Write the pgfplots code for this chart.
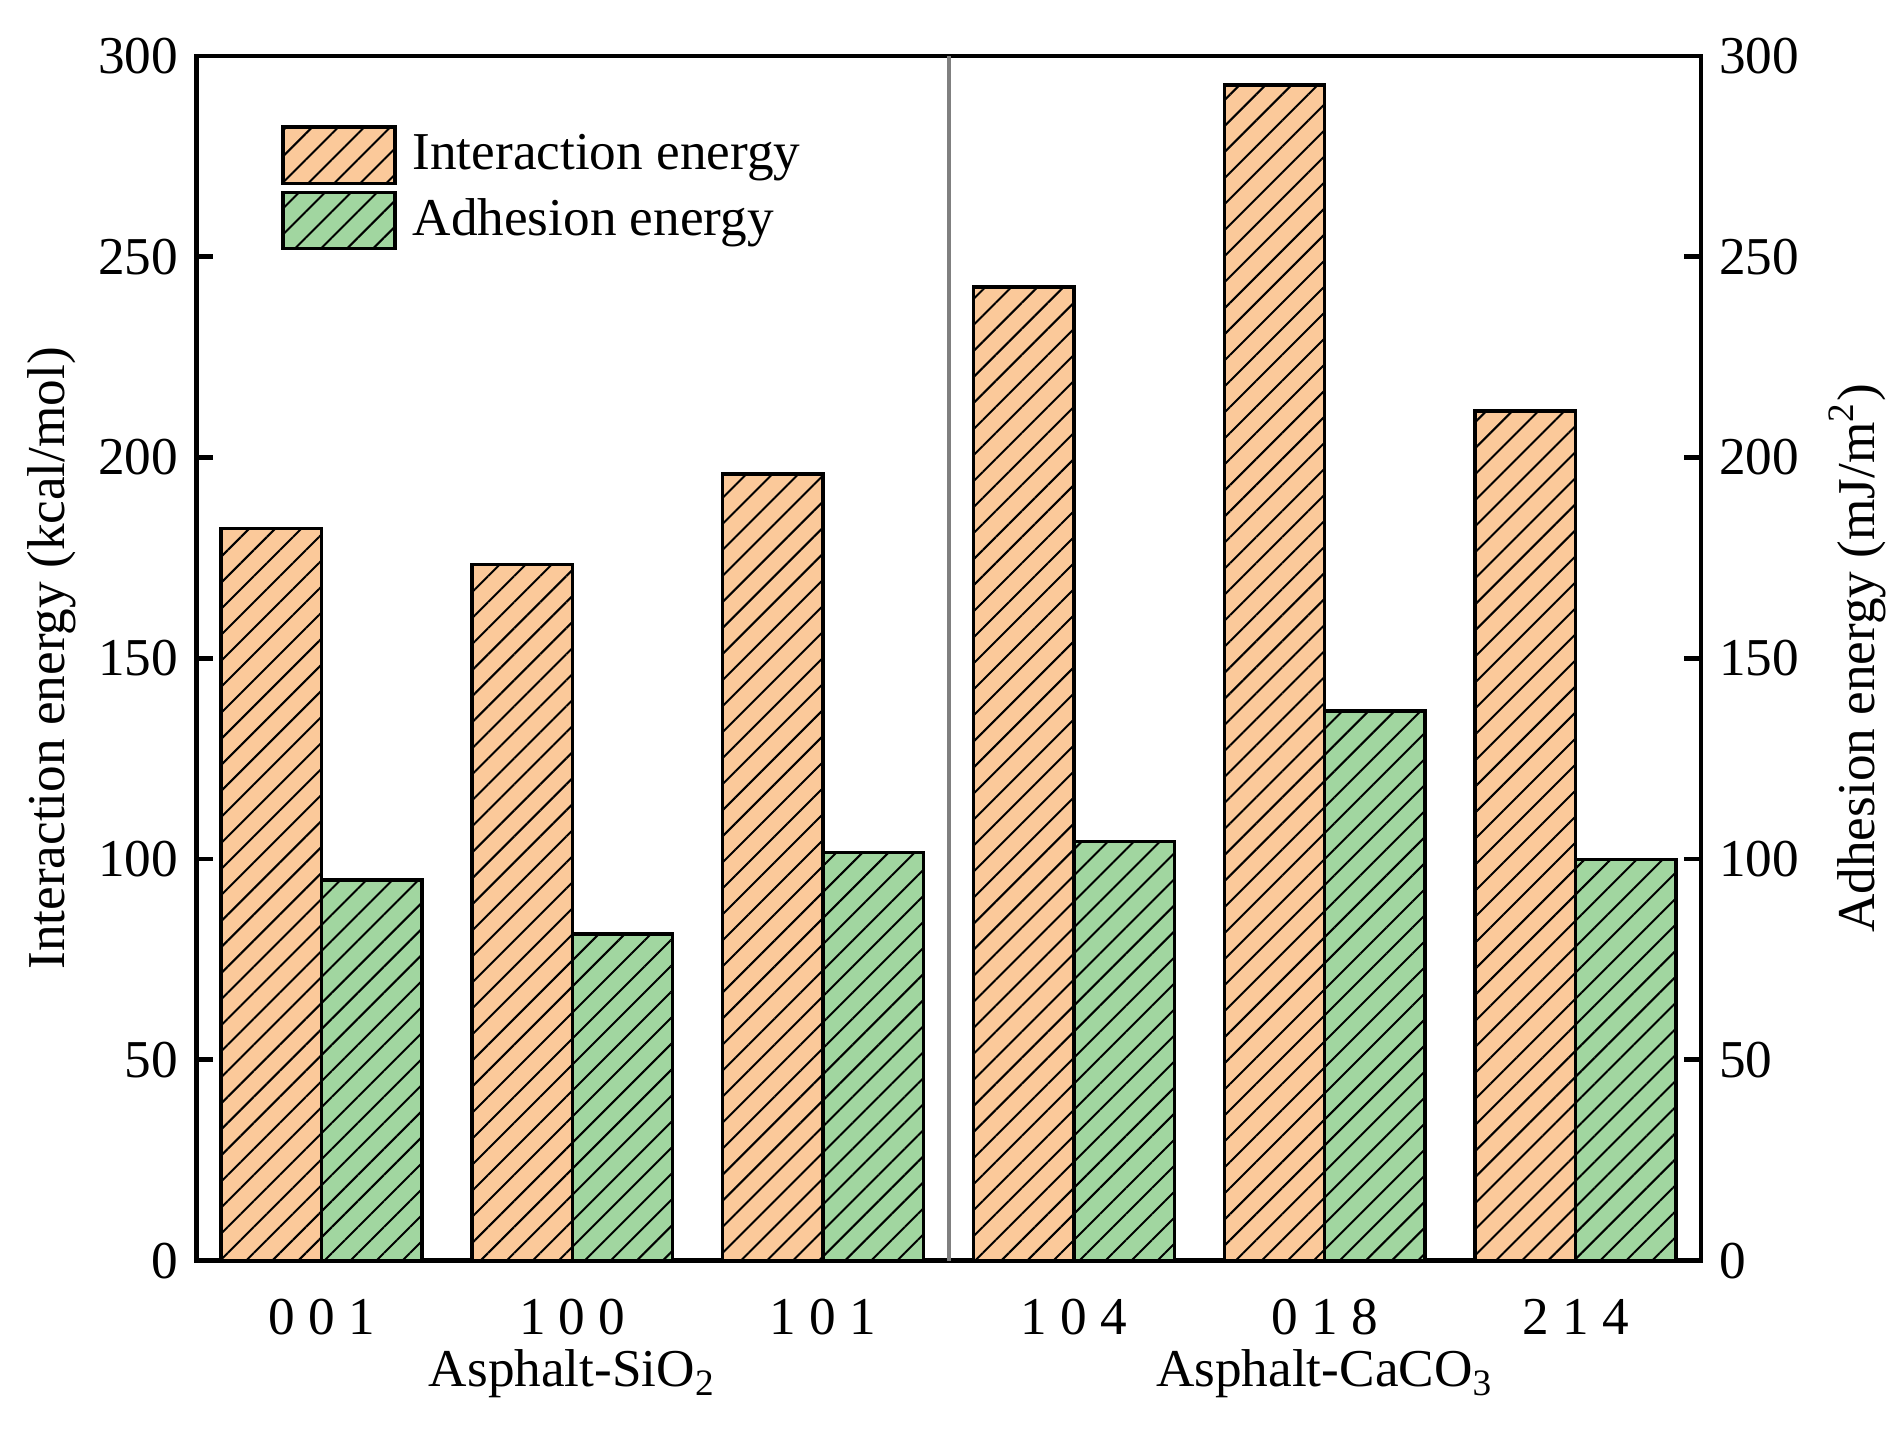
\documentclass[border=0pt]{standalone}
\usepackage{fontspec}
\setmainfont{Liberation Serif}
\usepackage{pgfplots}
\usepackage{pgfplotstable}
\pgfplotsset{compat=1.18}
\usetikzlibrary{patterns.meta}

\definecolor{ieorange}{RGB}{251,201,154}
\definecolor{aegreen}{RGB}{161,214,160}

% interaction energy (kcal/mol), adhesion energy (mJ/m^2)
\pgfplotstableread{
x inter adh
0 182.4 94.8
1 173.3 81.3
2 195.9 101.7
3 242.5 104.4
4 292.8 136.9
5 211.6 99.9
}\energy

\pgfplotsset{
  frame/.style={
    scale only axis, width=376pt, height=301pt,
    xmin=-0.5, xmax=5.5, ymin=0, ymax=300,
    ytick={0,50,...,300}, tick align=inside,
    major tick length=4.2pt,
    y tick style={line width=1.2pt, black},
    axis line style={line width=1.2pt},
    /pgf/number format/assume math mode=true,
  },
  hatch/.style={
    draw=black, line width=0.85pt, fill=#1,
    postaction={pattern={Lines[angle=45,distance=4.6pt,line width=0.5pt]}, pattern color=black},
  },
}

\begin{document}
\begin{tikzpicture}[font=\fontsize{13.3}{16}\selectfont]
\begin{axis}[
  frame,
  clip=false,
  ybar, bar width=0.4,
  xtick={0,...,5},
  xticklabels={0 0 1,1 0 0,1 0 1,1 0 4,0 1 8,2 1 4},
  x tick style={draw=none},
  xticklabel style={yshift=-2pt},
  ytick pos=left,
  yticklabel style={xshift=-1pt},
  ylabel={Interaction energy (kcal/mol)},
  ylabel style={at={(axis description cs:-0.096,0.5)}, anchor=center},
  legend image code/.code={\draw[#1] (0pt,-7pt) rectangle (28pt,7pt);},
  legend style={at={(axis description cs:0.056,0.943)}, anchor=north west,
    draw=none, fill=none, inner sep=0pt, row sep=1.4pt, column sep=4pt,
    nodes={inner sep=0pt}},
  legend cell align=left,
]
  \addplot[hatch=ieorange, bar shift=-0.2] table[x=x, y=inter] {\energy};
  \addplot[hatch=aegreen, bar shift=0.2] table[x=x, y=adh] {\energy};
  \legend{Interaction energy, Adhesion energy}

  \draw[gray, line width=1pt] (axis cs:2.5,0) -- (axis cs:2.5,300);
  \node[anchor=north, inner sep=0pt, yshift=-22pt] at (axis cs:1,0) {Asphalt-SiO\textsubscript{2}};
  \node[anchor=north, inner sep=0pt, yshift=-22pt] at (axis cs:4,0) {Asphalt-CaCO\textsubscript{3}};

  \coordinate (bl) at (rel axis cs:0,0);
  \coordinate (tr) at (rel axis cs:1,1);
\end{axis}

\begin{axis}[
  frame,
  hide x axis,
  ytick pos=right, yticklabel pos=right,
  yticklabel style={xshift=1pt},
  ylabel={Adhesion energy (mJ/m\textsuperscript{2})},
  ylabel style={at={(axis description cs:1.104,0.5)}, anchor=center, rotate=0},
]
\end{axis}

\pgfresetboundingbox
\path ([shift={(-49pt,-42pt)}]bl) rectangle ([shift={(48.75pt,14pt)}]tr);
\end{tikzpicture}
\end{document}
